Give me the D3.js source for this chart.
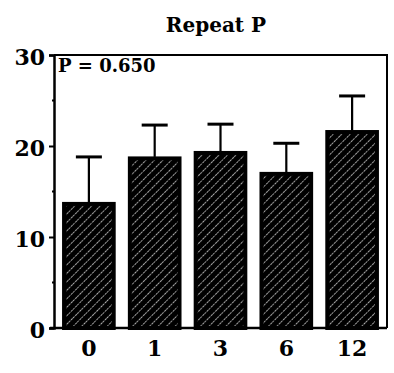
<!DOCTYPE html>
<html>
<head>
<meta charset="utf-8">
<script src="https://cdn.jsdelivr.net/npm/d3@7/dist/d3.min.js"></script>
<style>
  html, body { margin: 0; padding: 0; background: #fff; }
  svg { display: block; }
  text { font-family: "DejaVu Serif", serif; font-weight: bold; fill: #000; }
</style>
</head>
<body>
<svg id="chart" width="394" height="373"></svg>
<script>
// Months after start, mean response and upper error (SE)
const categories = ["0", "1", "3", "6", "12"];
const means = [13.8, 18.8, 19.4, 17.1, 21.7];
const errors = [5.0, 3.5, 3.0, 3.2, 3.8];
const yTicks = [0, 10, 20, 30];
const yMinorTicks = [5, 15, 25];
const title = "Repeat P";
const pLabel = "P = 0.650";

const svg = d3.select("#chart");
const plotLeft = 54, plotRight = 387, plotTop = 55, plotBottom = 328;

const x = d3.scaleBand().domain(categories).range([plotLeft, plotRight])
  .paddingInner(0.2).paddingOuter(0.13);
const y = d3.scaleLinear().domain([0, 30]).range([plotBottom, plotTop]);

// Diagonal hatch: white strokes over black
const defs = svg.append("defs");
const pat = defs.append("pattern")
  .attr("id", "hatch").attr("patternUnits", "userSpaceOnUse")
  .attr("width", 6).attr("height", 6)
  .attr("patternTransform", "rotate(45)");
pat.append("rect").attr("width", 6).attr("height", 6).attr("fill", "#000");
pat.append("line").attr("x1", 0).attr("y1", 0).attr("x2", 0).attr("y2", 6)
  .attr("stroke", "#fff").attr("stroke-width", 1.3)
  .attr("stroke-dasharray", "2.2,1");

// Title
svg.append("text").attr("x", 216).attr("y", 32)
  .attr("text-anchor", "middle").attr("font-size", 20).text(title);

// Bars
const rows = categories.map((c, i) => ({ c, m: means[i], e: errors[i] }));
svg.append("g").selectAll("rect").data(rows).join("rect")
  .attr("x", d => x(d.c) + 1.5)
  .attr("y", d => y(d.m) + 1.5)
  .attr("width", x.bandwidth() - 3)
  .attr("height", d => y(0) - y(d.m) - 1.5)
  .attr("fill", "url(#hatch)")
  .attr("stroke", "#000").attr("stroke-width", 4);

// Upper error bars
const eg = svg.append("g").attr("stroke", "#000");
eg.selectAll("line.stem").data(rows).join("line").attr("class", "stem")
  .attr("x1", d => x(d.c) + x.bandwidth() / 2)
  .attr("x2", d => x(d.c) + x.bandwidth() / 2)
  .attr("y1", d => y(d.m))
  .attr("y2", d => y(d.m + d.e))
  .attr("stroke-width", 2.2);
eg.selectAll("line.cap").data(rows).join("line").attr("class", "cap")
  .attr("x1", d => x(d.c) + x.bandwidth() / 2 - 13)
  .attr("x2", d => x(d.c) + x.bandwidth() / 2 + 13)
  .attr("y1", d => y(d.m + d.e))
  .attr("y2", d => y(d.m + d.e))
  .attr("stroke-width", 3);

// Frame: top and right edges
svg.append("path")
  .attr("d", `M${plotLeft},${plotTop}H${plotRight}V${plotBottom}`)
  .attr("fill", "none").attr("stroke", "#000").attr("stroke-width", 2);

// Left axis
const yAxis = d3.axisLeft(y).tickValues(yTicks).tickSize(5).tickPadding(4)
  .tickFormat(d3.format("d"));
const ya = svg.append("g").attr("transform", `translate(${plotLeft},0)`).call(yAxis);
ya.select(".domain").attr("stroke-width", 2.5);
ya.selectAll(".tick line").attr("stroke-width", 2);
ya.selectAll(".tick text").attr("font-size", 22).attr("dy", "0.45em")
  .attr("font-family", "DejaVu Serif").attr("font-weight", "bold");
ya.attr("font-family", null).attr("font-size", null);

// Minor ticks
svg.append("g").selectAll("line").data(yMinorTicks).join("line")
  .attr("x1", plotLeft - 2).attr("x2", plotLeft)
  .attr("y1", d => y(d)).attr("y2", d => y(d))
  .attr("stroke", "#000").attr("stroke-width", 2);

// Bottom axis
const xAxis = d3.axisBottom(x).tickSize(0).tickPadding(12);
const xa = svg.append("g").attr("transform", `translate(0,${plotBottom})`).call(xAxis);
xa.select(".domain").attr("d", `M${plotLeft - 4},0H${plotRight}`).attr("stroke-width", 2.5);
xa.selectAll(".tick text").attr("font-size", 22)
  .attr("font-family", "DejaVu Serif").attr("font-weight", "bold");
xa.attr("font-family", null).attr("font-size", null);

// P-value annotation
svg.append("text").attr("x", 58).attr("y", 72)
  .attr("font-size", 18).text(pLabel);
</script>
</body>
</html>
